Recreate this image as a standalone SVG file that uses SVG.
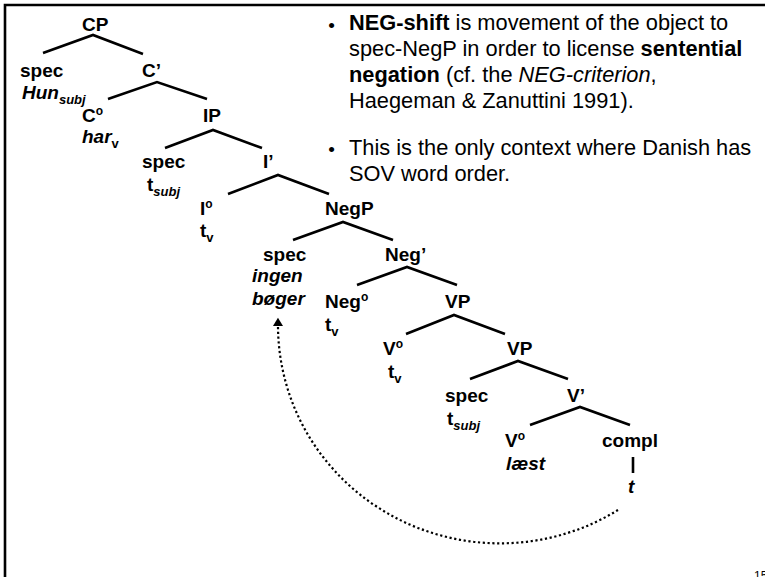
<svg xmlns="http://www.w3.org/2000/svg" width="765" height="577" viewBox="0 0 765 577">
  <style>
    .lbl { font-family: "Liberation Sans", Arial, sans-serif; font-size: 19px; font-weight: bold; fill: #000; }
    .it { font-style: italic; }
    .sub { font-size: 13px; }
    .sup { font-size: 12px; }
    .body { font-family: "Liberation Sans", Arial, sans-serif; font-size: 21.8px; fill: #000; }
    .bullet { font-family: "Liberation Sans", Arial, sans-serif; font-size: 19px; fill: #000; }
    .b { font-weight: bold; }
    .i { font-style: italic; }
    .branch { stroke: #000; stroke-width: 2.6; fill: none; stroke-linecap: butt; }
    .move { stroke: #000; stroke-width: 2.2; fill: none; stroke-dasharray: 2.2 2.6; }
  </style>
  <defs>
    <marker id="arrowhead" markerUnits="userSpaceOnUse" markerWidth="12" markerHeight="10" refX="0" refY="5.5" orient="auto" viewBox="0 0 9 11">
      <path d="M0,0 L9,5.5 L0,11 Z" fill="#000"/>
    </marker>
  </defs>

  <rect width="765" height="577" fill="#fff"/>
  <!-- slide frame -->
  <path d="M5,577 V5 H765" stroke="#000" stroke-width="2.6" fill="none"/>

  <!-- tree branches -->
  <g id="connectors">
    <path class="branch" d="M43,53 L93,35 L143,54"/>
    <path class="branch" d="M108,99 L157,82 L207,99"/>
    <path class="branch" d="M165,148 L213,130 L262,148"/>
    <path class="branch" d="M228,194 L278,175 L329,194"/>
    <path class="branch" d="M293,240 L343,222 L393,240"/>
    <path class="branch" d="M357,285 L407,267 L457,285"/>
    <path class="branch" d="M406,334 L454,315 L505,334"/>
    <path class="branch" d="M470,379 L518,361 L568,379"/>
    <path class="branch" d="M530,425 L580,407 L630,425"/>
    <path class="branch" d="M633,457 V473"/>
    <!-- NEG-shift movement -->
    <path id="movement" class="move" d="M618,510 A222,218 0 0 1 278,326" marker-end="url(#arrowhead)"/>
  </g>

  <g id="node-CP"><text class="lbl" x="82" y="31">CP</text></g>
  <g id="node-spec-CP">
    <text class="lbl" x="20" y="77">spec</text>
    <text class="lbl it" x="22" y="99">Hun<tspan class="sub" dy="5">subj</tspan></text>
  </g>
  <g id="node-Cbar"><text class="lbl" x="142" y="77">C’</text></g>
  <g id="node-C0">
    <text class="lbl" x="82" y="122">C<tspan class="sup" dy="-7">o</tspan></text>
    <text class="lbl it" x="82" y="143">har<tspan class="sub" font-style="normal" dy="5">v</tspan></text>
  </g>
  <g id="node-IP"><text class="lbl" x="203" y="122">IP</text></g>
  <g id="node-spec-IP">
    <text class="lbl" x="142" y="168">spec</text>
    <text class="lbl" x="147" y="191">t<tspan class="sub it" dy="5">subj</tspan></text>
  </g>
  <g id="node-Ibar"><text class="lbl" x="263" y="168">I’</text></g>
  <g id="node-I0">
    <text class="lbl" x="200" y="215">I<tspan class="sup" dy="-7">o</tspan></text>
    <text class="lbl" x="200" y="237">t<tspan class="sub" dy="5">v</tspan></text>
  </g>
  <g id="node-NegP"><text class="lbl" x="325" y="215">NegP</text></g>
  <g id="node-spec-NegP">
    <text class="lbl" x="263" y="261">spec</text>
    <text class="lbl it" x="252" y="282">ingen</text>
    <text class="lbl it" x="252" y="305">bøger</text>
  </g>
  <g id="node-Negbar"><text class="lbl" x="385" y="261">Neg’</text></g>
  <g id="node-Neg0">
    <text class="lbl" x="325" y="308">Neg<tspan class="sup" dy="-7">o</tspan></text>
    <text class="lbl" x="325" y="331">t<tspan class="sub" dy="5">v</tspan></text>
  </g>
  <g id="node-VP1"><text class="lbl" x="445" y="308">VP</text></g>
  <g id="node-V0-1">
    <text class="lbl" x="383" y="355">V<tspan class="sup" dy="-7">o</tspan></text>
    <text class="lbl" x="388" y="378">t<tspan class="sub" dy="5">v</tspan></text>
  </g>
  <g id="node-VP2"><text class="lbl" x="507" y="355">VP</text></g>
  <g id="node-spec-VP">
    <text class="lbl" x="445" y="402">spec</text>
    <text class="lbl" x="447" y="425">t<tspan class="sub it" dy="5">subj</tspan></text>
  </g>
  <g id="node-Vbar"><text class="lbl" x="567" y="402">V’</text></g>
  <g id="node-V0-2">
    <text class="lbl" x="505" y="447">V<tspan class="sup" dy="-7">o</tspan></text>
    <text class="lbl it" x="506" y="470">læst</text>
  </g>
  <g id="node-compl">
    <text class="lbl" x="602" y="447">compl</text>
    <text class="lbl it" x="628" y="493">t</text>
  </g>

  <!-- bullet points -->
  <g id="notes">
    <text class="bullet" x="328.2" y="31.5">•</text>
    <text class="body" x="349" y="30"><tspan class="b">NEG-shift</tspan> is movement of the object to</text>
    <text class="body" x="349" y="56">spec-NegP in order to license <tspan class="b">sentential</tspan></text>
    <text class="body" x="349" y="82"><tspan class="b">negation</tspan> (cf. the <tspan class="i">NEG-criterion</tspan>,</text>
    <text class="body" x="349" y="108">Haegeman &amp; Zanuttini 1991).</text>
    <text class="bullet" x="328.2" y="156">•</text>
    <text class="body" x="349" y="155">This is the only context where Danish has</text>
    <text class="body" x="349" y="181">SOV word order.</text>
  </g>

  <text id="page-number" x="754" y="580" font-family="'Liberation Sans', Arial, sans-serif" font-size="12" fill="#000">15</text>
</svg>
